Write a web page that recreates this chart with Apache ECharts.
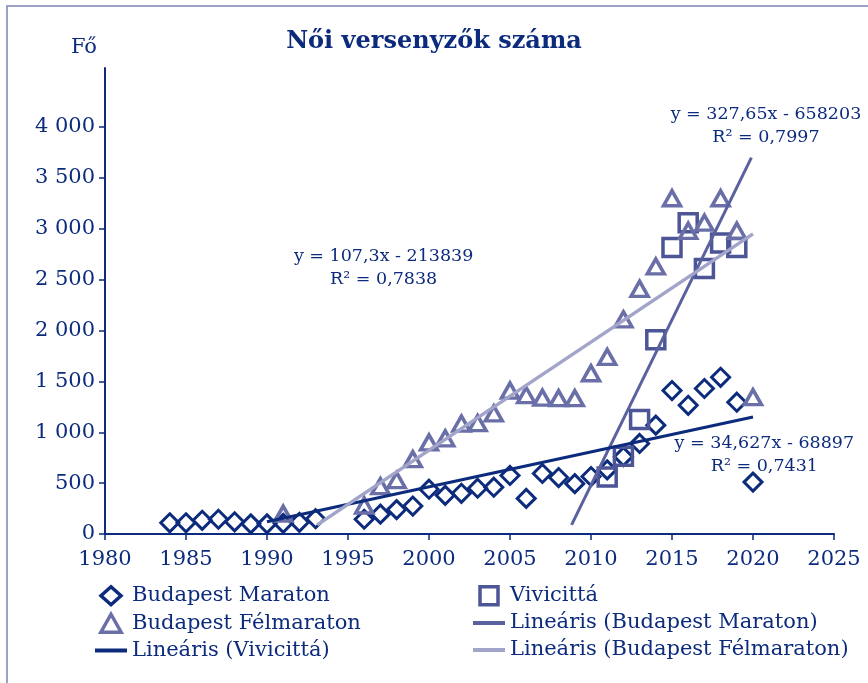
<!DOCTYPE html>
<html>
<head>
<meta charset="utf-8">
<script src="https://cdn.jsdelivr.net/npm/echarts@6/dist/echarts.min.js"></script>
<style>
  html, body { margin: 0; padding: 0; background: #fff; }
  #chart { width: 868px; height: 683px; }
</style>
</head>
<body>
<div id="chart"></div>
<script>
// évek és értékek
const maratonYears = [1984, 1985, 1986, 1987, 1988, 1989, 1990, 1991, 1992, 1993,
  1996, 1997, 1998, 1999, 2000, 2001, 2002, 2003, 2004, 2005, 2006, 2007, 2008,
  2009, 2010, 2011, 2012, 2013, 2014, 2015, 2016, 2017, 2018, 2019, 2020];
const maratonValues = [110, 110, 135, 145, 120, 100, 100, 105, 115, 150,
  145, 195, 240, 275, 440, 380, 400, 450, 460, 575, 350, 595, 555,
  495, 565, 630, 760, 890, 1070, 1410, 1265, 1430, 1540, 1295, 510];

const felmaratonYears = [1991, 1996, 1997, 1998, 1999, 2000, 2001, 2002, 2003, 2004,
  2005, 2006, 2007, 2008, 2009, 2010, 2011, 2012, 2013, 2014, 2015, 2016, 2017,
  2018, 2019, 2020];
const felmaratonValues = [200, 280, 470, 530, 735, 900, 940, 1085, 1090, 1185,
  1410, 1365, 1340, 1335, 1335, 1580, 1740, 2110, 2410, 2630, 3300, 2980, 3060,
  3300, 2980, 1345];

const vivicittaYears = [2011, 2012, 2013, 2014, 2015, 2016, 2017, 2018, 2019];
const vivicittaValues = [560, 765, 1125, 1910, 2815, 3060, 2610, 2860, 2815];

// trendvonalak végpontjai [év, fő]
const trendMaraton = [[1990, 120], [2020, 1150]];
const trendVivicitta = [[2008.8, 90], [2019.9, 3700]];
const trendFelmaraton = [[1993.1, 90], [2020, 2950]];

// egyenletek
const eqTexts = ['y = 327,65x - 658203\nR² = 0,7997',
  'y = 107,3x - 213839\nR² = 0,7838',
  'y = 34,627x - 68897\nR² = 0,7431'];
const eqAnchors = [[2020.8, 4010], [1997.2, 2610], [2020.7, 775]];

const yTicks = [0, 500, 1000, 1500, 2000, 2500, 3000, 3500, 4000];

const navy = '#0c2b7c';
const cSquare = '#4c5696';
const cTriangle = '#6a6fa8';
const cSteep = '#5a619f';
const cLight = '#a2a4c9';
const font = 'DejaVu Serif';

const zip = (xs, ys) => xs.map((x, i) => [x, ys[i]]);
const fmtThousands = v => String(v).replace(/\B(?=(\d{3})+(?!\d))/g, ' ');

const legendText = { color: navy, fontFamily: font, fontSize: 21, lineHeight: 21 };
const iconDiamond = 'path://M10 0L20 9L10 18L0 9Z';
const iconTriangle = 'path://M9 0L18 16L0 16Z';
const iconSquare = 'path://M0 0H18V18H0Z';
const iconBar = 'path://M0 0H32V4H0Z';
const hollow = c => ({ color: 'rgba(255,255,255,0)', borderColor: c, borderWidth: 3.5 });
const barItem = (name, c) => ({ name, icon: iconBar, itemStyle: { color: c, borderWidth: 0 } });

const option = {
  backgroundColor: '#fff',
  animation: false,
  title: {
    text: 'Női versenyzők száma',
    left: 'center',
    top: 25,
    textStyle: { color: navy, fontFamily: font, fontSize: 24, fontWeight: 'bold' }
  },
  grid: { left: 105, right: 34, top: 68, bottom: 149 },
  legend: [
    {
      orient: 'vertical', left: 90, top: 580, itemWidth: 32, itemHeight: 18, itemGap: 6,
      textStyle: legendText,
      data: [
        { name: 'Budapest Maraton', icon: iconDiamond, itemStyle: hollow(navy) },
        { name: 'Budapest Félmaraton', icon: iconTriangle, itemStyle: hollow(cTriangle) },
        barItem('Lineáris (Vivicittá)', navy)
      ]
    },
    {
      orient: 'vertical', left: 468, top: 580, itemWidth: 32, itemHeight: 18, itemGap: 6,
      textStyle: legendText,
      data: [
        { name: 'Vivicittá', icon: iconSquare, itemStyle: hollow(cSquare) },
        barItem('Lineáris (Budapest Maraton)', cSteep),
        barItem('Lineáris (Budapest Félmaraton)', cLight)
      ]
    }
  ],
  xAxis: {
    type: 'value', min: 1980, max: 2025, interval: 5,
    axisLine: { lineStyle: { color: navy, width: 2 } },
    axisTick: { show: true, inside: false, length: 6, lineStyle: { color: navy, width: 1.5 } },
    axisLabel: { color: navy, fontFamily: font, fontSize: 21, margin: 15, formatter: v => String(v) },
    splitLine: { show: false }
  },
  yAxis: {
    type: 'value', min: 0, max: 4580, interval: 500,
    name: 'Fő', nameLocation: 'end', nameGap: 10,
    nameTextStyle: { color: navy, fontFamily: font, fontSize: 21, align: 'right', padding: [0, 8, 0, 0] },
    axisLine: { show: true, lineStyle: { color: navy, width: 2 } },
    axisTick: { show: true, length: 6, customValues: yTicks, lineStyle: { color: navy, width: 1.5 } },
    axisLabel: { color: navy, fontFamily: font, fontSize: 21, margin: 10, customValues: yTicks, formatter: fmtThousands },
    splitLine: { show: false }
  },
  series: [
    {
      name: 'Budapest Maraton', type: 'scatter', symbol: 'diamond', symbolSize: 18,
      itemStyle: { color: 'rgba(255,255,255,0)', borderColor: navy, borderWidth: 3, opacity: 1 },
      data: zip(maratonYears, maratonValues), z: 3
    },
    {
      name: 'Vivicittá', type: 'scatter', symbol: 'rect', symbolSize: 18,
      itemStyle: { color: 'rgba(255,255,255,0)', borderColor: cSquare, borderWidth: 3.5, opacity: 1 },
      data: zip(vivicittaYears, vivicittaValues), z: 3
    },
    {
      name: 'Budapest Félmaraton', type: 'scatter', symbol: 'triangle', symbolSize: [17, 15],
      itemStyle: { color: 'rgba(255,255,255,0)', borderColor: cTriangle, borderWidth: 3.5, opacity: 1 },
      data: zip(felmaratonYears, felmaratonValues), z: 3
    },
    {
      name: 'Lineáris (Budapest Maraton)', type: 'line', symbol: 'none', color: cSteep,
      lineStyle: { color: cSteep, width: 3 }, data: trendVivicitta, z: 4
    },
    {
      name: 'Lineáris (Vivicittá)', type: 'line', symbol: 'none', color: navy,
      lineStyle: { color: navy, width: 3 }, data: trendMaraton, z: 4
    },
    {
      name: 'Lineáris (Budapest Félmaraton)', type: 'line', symbol: 'none', color: cLight,
      lineStyle: { color: cLight, width: 3.5 }, data: trendFelmaraton, z: 4
    },
    {
      type: 'scatter', symbolSize: 0, silent: true, z: 5,
      itemStyle: { opacity: 1 },
      data: eqAnchors.map((p, i) => ({ value: p, name: eqTexts[i] })),
      label: {
        show: true, position: 'inside', formatter: p => p.name,
        color: navy, fontFamily: font, fontSize: 17.5, lineHeight: 23, align: 'center'
      }
    }
  ],
  graphic: [
    {
      type: 'rect', silent: true, z: -1,
      shape: { x: 7, y: 6, width: 900, height: 700 },
      style: { fill: 'none', stroke: '#7c82b4', lineWidth: 1.5 }
    }
  ]
};

const chart = echarts.init(document.getElementById('chart'));
chart.setOption(option);
</script>
</body>
</html>
